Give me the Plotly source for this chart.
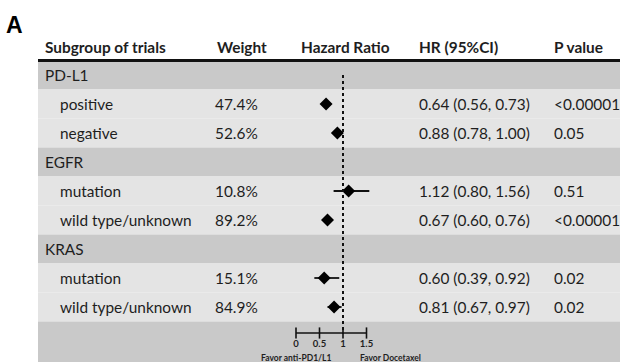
import plotly.graph_objects as go

# ---------------- data ----------------
row_labels = ["PD-L1", "positive", "negative", "EGFR", "mutation",
              "wild type/unknown", "KRAS", "mutation", "wild type/unknown"]
is_group = [True, False, False, True, False, False, True, False, False]
weights = ["", "47.4%", "52.6%", "", "10.8%", "89.2%", "", "15.1%", "84.9%"]
hr = [None, 0.64, 0.88, None, 1.12, 0.67, None, 0.60, 0.81]
ci_low = [None, 0.56, 0.78, None, 0.80, 0.60, None, 0.39, 0.67]
ci_high = [None, 0.73, 1.00, None, 1.56, 0.76, None, 0.92, 0.97]
p_values = ["", "<0.00001", "0.05", "", "0.51", "<0.00001", "", "0.02", "0.02"]
headers = ["Subgroup of trials", "Weight", "Hazard Ratio", "HR (95%CI)", "P value"]
tick_vals = [0, 0.5, 1, 1.5]
tick_text = ["0", "0.5", "1", "1.5"]
favor_left = "Favor anti-PD1/L1"
favor_right = "Favor Docetaxel"
ref_value = 1

# ---------------- layout constants ----------------
W, H = 620, 362
ROW0_PX, ROW_PX = 75, 29          # centre of first row, row pitch
X0_PX, UNIT_PX = 296, 47          # pixel of HR=0, pixels per HR unit
FONT = "Lato"
FS = 15.4
TXT = "#1e1e1e"
DARK = "#c9c9c9"
LIGHT = "#e4e4e4"
TABLE_LEFT = 38


def row_of(px):
    return (px - ROW0_PX) / ROW_PX


def paper_x(px):
    return px / W


n = len(row_labels)
AXIS_ROW = row_of(333)

fig = go.Figure()

shapes = []
# row backgrounds
for i in range(n):
    shapes.append(dict(type="rect", xref="paper", yref="y", layer="below",
                       x0=paper_x(TABLE_LEFT), x1=1, y0=i - 0.5, y1=i + 0.5,
                       fillcolor=DARK if is_group[i] else LIGHT,
                       line=dict(width=0)))
# bottom axis band
shapes.append(dict(type="rect", xref="paper", yref="y", layer="below",
                   x0=paper_x(TABLE_LEFT), x1=1, y0=n - 0.5, y1=row_of(H + 5),
                   fillcolor=DARK, line=dict(width=0)))
# header rule
shapes.append(dict(type="line", xref="paper", yref="y",
                   x0=paper_x(TABLE_LEFT), x1=1, y0=-0.5, y1=-0.5,
                   line=dict(color="#111111", width=3)))
# reference dotted line
shapes.append(dict(type="line", xref="x", yref="y",
                   x0=ref_value, x1=ref_value, y0=0, y1=AXIS_ROW + 0.03,
                   line=dict(color="#111111", width=2, dash="dot")))

# forest points with CIs
idx = [i for i in range(n) if hr[i] is not None]
fig.add_trace(go.Scatter(
    x=[hr[i] for i in idx], y=idx, mode="markers",
    marker=dict(symbol="diamond", size=10, color="#000000"),
    error_x=dict(type="data", symmetric=False,
                 array=[ci_high[i] - hr[i] for i in idx],
                 arrayminus=[hr[i] - ci_low[i] for i in idx],
                 color="#111111", thickness=1.8, width=0),
    hoverinfo="skip", showlegend=False, cliponaxis=False))

# forest axis line, ticks and tick labels
fig.add_trace(go.Scatter(
    x=[min(tick_vals), max(tick_vals)], y=[AXIS_ROW, AXIS_ROW], mode="lines",
    line=dict(color="#111111", width=1.6), hoverinfo="skip", showlegend=False))
fig.add_trace(go.Scatter(
    x=tick_vals, y=[AXIS_ROW] * len(tick_vals), mode="markers",
    marker=dict(symbol="line-ns", size=8, line=dict(color="#111111", width=1.6)),
    hoverinfo="skip", showlegend=False, cliponaxis=False))
fig.add_trace(go.Scatter(
    x=tick_vals, y=[row_of(345)] * len(tick_vals), mode="text",
    text=["<b>%s</b>" % t for t in tick_text],
    textfont=dict(family=FONT, size=9.5, color=TXT),
    hoverinfo="skip", showlegend=False, cliponaxis=False))

annotations = []


def txt(px, row, s, size=FS, bold=False, anchor="left", color=TXT, family=FONT):
    annotations.append(dict(
        x=paper_x(px), y=row, xref="paper", yref="y", xanchor=anchor,
        yanchor="middle", showarrow=False, borderpad=0, borderwidth=0,
        text="<b>%s</b>" % s if bold else s,
        font=dict(family=family, size=size, color=color)))


# panel letter
txt(6, row_of(25), "A", size=23, bold=True, family="Liberation Sans", color="#000")
# headers
header_x = [45, 217, 301, 419, 554]
for hx, h in zip(header_x, headers):
    txt(hx, row_of(47), h, bold=True)

for i in range(n):
    txt(45 if is_group[i] else 60, i, row_labels[i])
    if weights[i]:
        txt(215, i, weights[i])
    if hr[i] is not None:
        txt(419, i, "%.2f (%.2f, %.2f)" % (hr[i], ci_low[i], ci_high[i]))
    if p_values[i]:
        txt(554, i, p_values[i])

# favor labels
txt(296, row_of(357.5), favor_left, size=8.5, bold=True, anchor="center")
txt(390, row_of(357.5), favor_right, size=8.5, bold=True, anchor="center")

fig.update_layout(
    width=W, height=H, margin=dict(l=0, r=0, t=0, b=0),
    paper_bgcolor="white", plot_bgcolor="rgba(0,0,0,0)",
    xaxis=dict(range=[-X0_PX / UNIT_PX, (W - X0_PX) / UNIT_PX], visible=False,
               fixedrange=True),
    yaxis=dict(range=[row_of(H), row_of(0)], visible=False, fixedrange=True),
    shapes=shapes, annotations=annotations, showlegend=False)

fig.write_html("out.html", config={"displayModeBar": False},
               post_script="document.body.style.margin='0';"
                           "document.body.style.overflow='hidden';")
